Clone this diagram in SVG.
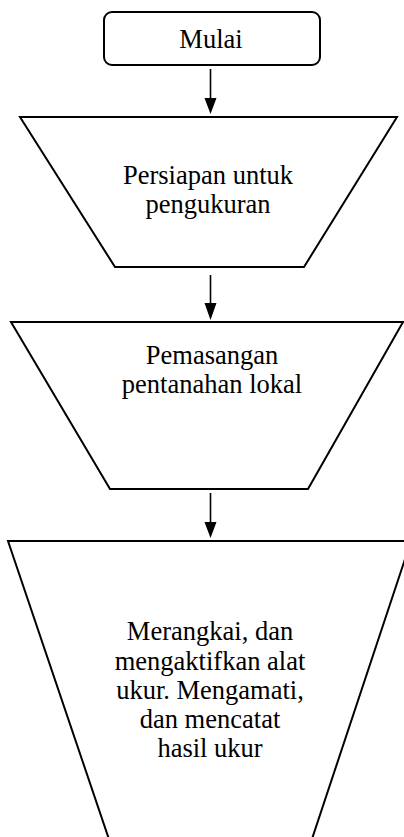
<svg xmlns="http://www.w3.org/2000/svg" width="404" height="837" viewBox="0 0 404 837">
<style>
.shape{fill:#fff;stroke:#000;stroke-width:2}
.lbl{font-family:"Liberation Serif","Times New Roman",serif;font-size:26.5px;fill:#000;text-anchor:middle}
.conn{stroke:#000;stroke-width:1.6;fill:none}
.head{fill:#000}
</style>
<rect width="404" height="837" fill="#fff"/>
<g id="connectors">
<line class="conn" x1="210.5" y1="69" x2="210.5" y2="100"/>
<path class="head" d="M204.5,98 L216.5,98 L210.5,114 Z"/>
<line class="conn" x1="210.5" y1="275" x2="210.5" y2="305"/>
<path class="head" d="M204.5,303 L216.5,303 L210.5,320 Z"/>
<line class="conn" x1="210.5" y1="493" x2="210.5" y2="523"/>
<path class="head" d="M204.5,522 L216.5,522 L210.5,538 Z"/>
</g>
<g id="n-mulai">
<rect class="shape" x="104" y="12" width="216" height="53" rx="8" ry="8"/>
<text class="lbl" x="211" y="48">Mulai</text>
</g>
<g id="n-persiapan">
<polygon class="shape" points="20,117 397,117 304,267 115,267"/>
<text class="lbl" x="208" y="184">Persiapan untuk</text>
<text class="lbl" x="208" y="213">pengukuran</text>
</g>
<g id="n-pemasangan">
<polygon class="shape" points="11,322 403,322 308,489 110,489"/>
<text class="lbl" x="212" y="364">Pemasangan</text>
<text class="lbl" x="212" y="393">pentanahan lokal</text>
</g>
<g id="n-merangkai">
<polygon class="shape" points="8,541 411,541 305,860 116,860"/>
<text class="lbl" x="210" y="640">Merangkai, dan</text>
<text class="lbl" x="210" y="670">mengaktifkan alat</text>
<text class="lbl" x="210" y="699">ukur. Mengamati,</text>
<text class="lbl" x="210" y="728">dan mencatat</text>
<text class="lbl" x="210" y="757">hasil ukur</text>
</g>
</svg>
